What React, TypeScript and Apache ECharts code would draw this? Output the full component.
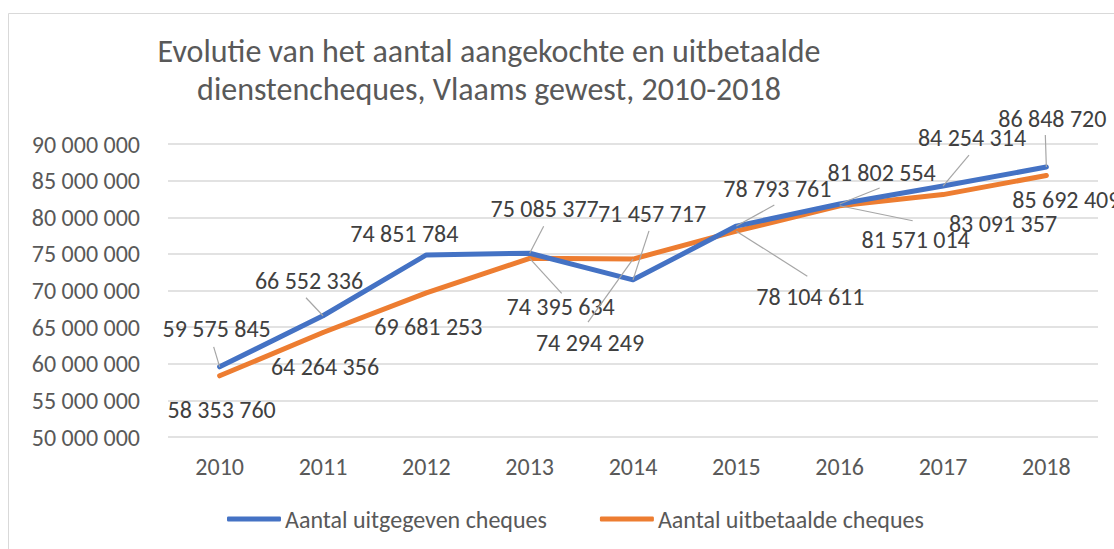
import React, { useEffect, useRef } from 'react';
import * as echarts from 'echarts';

const titleLines = [
  'Evolutie van het aantal aangekochte en uitbetaalde',
  'dienstencheques, Vlaams gewest, 2010-2018',
];
const years = ['2010', '2011', '2012', '2013', '2014', '2015', '2016', '2017', '2018'];
const issuedName = 'Aantal uitgegeven cheques';
const paidName = 'Aantal uitbetaalde cheques';
const issued = [59575845, 66552336, 74851784, 75085377, 71457717, 78793761, 81802554, 84254314, 86848720];
const paid = [58353760, 64264356, 69681253, 74395634, 74294249, 78104611, 81571014, 83091357, 85692409];

// label placement relative to each point (dx, dy to label centre)
const issuedLabelOffsets = [[-3, -38], [-14, -35], [-22, -21], [15, -45], [19, -66], [41, -38], [42, -32], [29, -49], [6, -49]];
const paidLabelOffsets = [[2, 34], [2, 34], [2, 34], [31, 48], [-43, 83], [74, 65], [76, 34], [60, 29], [20, 24]];
// leader lines: vector from the point to the label end (null = no leader)
const issuedLeaderVecs = [[-6, -20], [-17, -18], null, [14, -27], [16, -49], [38, -21], [40, -16], [26, -31], [-1, -32]];
const paidLeaderVecs = [null, null, null, [32, 35], [-45, 63], [71, 45], [73, 15], null, null];

const FONT = 'Carlito, Lato, sans-serif';
const fmt = (v: number) => String(Math.round(v)).replace(/\B(?=(\d{3})+(?!\d))/g, ' ');

export default function App() {
  const ref = useRef<HTMLDivElement>(null);
  useEffect(() => {
    if (!ref.current) return;
    const chart = echarts.init(ref.current, undefined, { renderer: 'svg' });
    const offsets = [issuedLabelOffsets, paidLabelOffsets];
    const labelCommon = {
      show: true,
      formatter: (p: any) => fmt(p.value),
      fontFamily: FONT,
      fontSize: 24,
      color: '#404040',
    };
    const leaderData: any[] = [];
    [[issued, issuedLeaderVecs], [paid, paidLeaderVecs]].forEach(([vals, vecs]: any) => {
      vals.forEach((v: number, i: number) => {
        const vec = vecs[i];
        if (vec) leaderData.push([i, v, vec[0], vec[1]]);
      });
    });
    chart.setOption({
      animation: false,
      backgroundColor: '#ffffff',
      graphic: [
        { type: 'rect', shape: { x: 8.5, y: 13.5, width: 1300, height: 700 }, style: { fill: 'none', stroke: '#d9d9d9', lineWidth: 1 }, silent: true },
        { type: 'text', x: 489, y: 51, style: { text: titleLines[0], fontFamily: FONT, fontSize: 32, fontWeight: 300, fill: '#595959', textAlign: 'center', textVerticalAlign: 'middle' } },
        { type: 'text', x: 489, y: 89, style: { text: titleLines[1], fontFamily: FONT, fontSize: 32, fontWeight: 300, fill: '#595959', textAlign: 'center', textVerticalAlign: 'middle' } },
      ],
      grid: { left: 168, right: 16, top: 144, bottom: 112, containLabel: false },
      legend: {
        bottom: 13,
        left: 222,
        itemWidth: 54,
        itemHeight: 5,
        itemGap: 53,
        icon: 'roundRect',
        textStyle: { fontFamily: FONT, fontSize: 24, color: '#595959', padding: [0, 0, 0, -1] },
        data: [issuedName, paidName],
      },
      xAxis: {
        type: 'category',
        data: years,
        boundaryGap: true,
        axisLine: { show: false },
        axisTick: { show: false },
        axisLabel: { fontFamily: FONT, fontSize: 24, color: '#595959', margin: 17 },
      },
      yAxis: {
        type: 'value',
        min: 50000000,
        max: 90000000,
        interval: 5000000,
        axisLine: { show: false },
        axisTick: { show: false },
        axisLabel: { fontFamily: FONT, fontSize: 24, color: '#595959', margin: 28, formatter: (v: number) => fmt(v) },
        splitLine: { lineStyle: { color: '#d9d9d9', width: 1.5 } },
      },
      labelLayout: (params: any) => {
        if (params.seriesIndex > 1) return {};
        const off = offsets[params.seriesIndex][params.dataIndex];
        const cx = params.rect.x + params.rect.width / 2;
        const cy = params.rect.y + params.rect.height / 2;
        return { x: cx + off[0], y: cy + off[1], align: 'center', verticalAlign: 'middle' };
      },
      series: [
        {
          name: issuedName,
          type: 'line',
          data: issued,
          symbol: 'circle',
          symbolSize: 4,
          showSymbol: true,
          color: '#4472C4',
          lineStyle: { width: 5, color: '#4472C4', cap: 'round', join: 'round' },
          itemStyle: { color: '#4472C4', borderWidth: 0 },
          label: labelCommon,
          z: 3,
        },
        {
          name: paidName,
          type: 'line',
          data: paid,
          symbol: 'circle',
          symbolSize: 4,
          showSymbol: true,
          color: '#ED7D31',
          lineStyle: { width: 5, color: '#ED7D31', cap: 'round', join: 'round' },
          itemStyle: { color: '#ED7D31', borderWidth: 0 },
          label: labelCommon,
          z: 2,
        },
        {
          name: 'leaders',
          type: 'custom',
          silent: true,
          clip: false,
          z: 4,
          encode: { x: 0, y: 1 },
          data: leaderData,
          renderItem: (params: any, api: any) => {
            const p = api.coord([api.value(0), api.value(1)]);
            return {
              type: 'line',
              shape: { x1: p[0], y1: p[1], x2: p[0] + api.value(2), y2: p[1] + api.value(3) },
              style: { stroke: '#a6a6a6', lineWidth: 1.2 },
            };
          },
        },
      ],
    });
    return () => chart.dispose();
  }, []);
  return <div ref={ref} style={{ position: 'absolute', left: 0, top: 0, width: 1114, height: 549 }} />;
}
